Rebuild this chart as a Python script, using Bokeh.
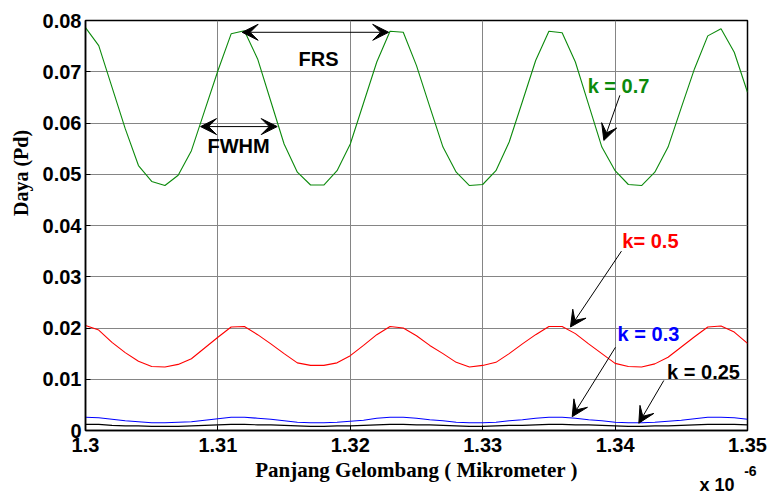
from bokeh.plotting import figure
from bokeh.models import Range1d, FixedTicker, Label, Arrow, VeeHead
from bokeh.embed import file_html
from bokeh.resources import INLINE

# Wavelength samples (micrometer, axis multiplier x 10^-6 m)
wavelength = [1.300, 1.301, 1.302, 1.303, 1.304, 1.305, 1.306, 1.307, 1.308, 1.309,
              1.310, 1.311, 1.312, 1.313, 1.314, 1.315, 1.316, 1.317, 1.318, 1.319,
              1.320, 1.321, 1.322, 1.323, 1.324, 1.325, 1.326, 1.327, 1.328, 1.329,
              1.330, 1.331, 1.332, 1.333, 1.334, 1.335, 1.336, 1.337, 1.338, 1.339,
              1.340, 1.341, 1.342, 1.343, 1.344, 1.345, 1.346, 1.347, 1.348, 1.349,
              1.350]

daya_k07 = [0.0786, 0.0751, 0.0670, 0.0589, 0.0517, 0.0486, 0.0478, 0.0498, 0.0546, 0.0624,
            0.0702, 0.0774, 0.0780, 0.0725, 0.0642, 0.0559, 0.0504, 0.0479, 0.0479, 0.0507,
            0.0559, 0.0639, 0.0719, 0.0779, 0.0777, 0.0712, 0.0632, 0.0553, 0.0504, 0.0478,
            0.0480, 0.0507, 0.0563, 0.0642, 0.0722, 0.0779, 0.0776, 0.0719, 0.0636, 0.0553,
            0.0507, 0.0480, 0.0478, 0.0504, 0.0553, 0.0630, 0.0706, 0.0770, 0.0784, 0.0738,
            0.0660]

daya_k05 = [0.0205, 0.0196, 0.0172, 0.0152, 0.0135, 0.0125, 0.0124, 0.0129, 0.0140, 0.0161,
            0.0182, 0.0202, 0.0203, 0.0187, 0.0169, 0.0150, 0.0132, 0.0127, 0.0127, 0.0132,
            0.0146, 0.0166, 0.0187, 0.0203, 0.0200, 0.0185, 0.0166, 0.0150, 0.0133, 0.0124,
            0.0127, 0.0133, 0.0150, 0.0169, 0.0187, 0.0203, 0.0203, 0.0189, 0.0169, 0.0150,
            0.0131, 0.0125, 0.0124, 0.0130, 0.0143, 0.0163, 0.0183, 0.0202, 0.0204, 0.0192,
            0.0170]

daya_k03 = [0.0026, 0.0025, 0.0022, 0.0019, 0.0017, 0.0015, 0.0015, 0.0016, 0.0017, 0.0020,
            0.0023, 0.0026, 0.0026, 0.0024, 0.0022, 0.0019, 0.0016, 0.0015, 0.0015, 0.0016,
            0.0018, 0.0020, 0.0024, 0.0026, 0.0026, 0.0024, 0.0021, 0.0019, 0.0016, 0.0015,
            0.0015, 0.0016, 0.0019, 0.0021, 0.0024, 0.0026, 0.0026, 0.0024, 0.0021, 0.0019,
            0.0016, 0.0015, 0.0015, 0.0016, 0.0018, 0.0020, 0.0023, 0.0026, 0.0026, 0.0025,
            0.0022]

daya_k025 = [0.0012, 0.0012, 0.0010, 0.0009, 0.0009, 0.0008, 0.0008, 0.0008, 0.0009, 0.0010,
             0.0011, 0.0012, 0.0012, 0.0011, 0.0011, 0.0010, 0.0009, 0.0008, 0.0008, 0.0009,
             0.0009, 0.0010, 0.0011, 0.0012, 0.0012, 0.0011, 0.0011, 0.0010, 0.0009, 0.0008,
             0.0008, 0.0009, 0.0010, 0.0010, 0.0011, 0.0012, 0.0012, 0.0011, 0.0011, 0.0010,
             0.0009, 0.0008, 0.0008, 0.0009, 0.0009, 0.0010, 0.0011, 0.0012, 0.0012, 0.0012,
             0.0011]

x_ticks = [1.30, 1.31, 1.32, 1.33, 1.34, 1.35]
x_tick_labels = ["1.3", "1.31", "1.32", "1.33", "1.34", "1.35"]
y_ticks = [0.0, 0.01, 0.02, 0.03, 0.04, 0.05, 0.06, 0.07, 0.08]
y_tick_labels = ["0", "0.01", "0.02", "0.03", "0.04", "0.05", "0.06", "0.07", "0.08"]

GREEN = "#0c8a0c"
SANS = "Liberation Sans"
SERIF = "Liberation Serif"
NBSP = "\u00a0"

p = figure(width=770, height=492, output_backend="svg", toolbar_location=None,
           x_range=Range1d(1.30, 1.35), y_range=Range1d(0.0, 0.08),
           min_border_left=85, min_border_right=23, min_border_top=20, min_border_bottom=62,
           background_fill_color="white", border_fill_color="white")
p.outline_line_color = "black"
p.outline_line_width = 1.5

xt = FixedTicker(ticks=x_ticks)
yt = FixedTicker(ticks=y_ticks)

for ax, tk, labels in ((p.xaxis[0], xt, x_tick_labels), (p.yaxis[0], yt, y_tick_labels)):
    ax.ticker = tk
    ax.major_label_overrides = {t: l for t, l in zip(tk.ticks, labels)}
    ax.major_tick_in = 5
    ax.major_tick_out = 0
    ax.minor_tick_in = 0
    ax.minor_tick_out = 0
    ax.axis_line_width = 1.5
    ax.major_tick_line_width = 1
    ax.major_label_text_font = SANS
    ax.major_label_text_font_style = "bold"
    ax.major_label_text_font_size = "20px"
    ax.major_label_text_color = "black"
    ax.axis_label_text_font = SERIF
    ax.axis_label_text_font_style = "bold"
    ax.axis_label_text_color = "black"

p.xaxis.axis_label = "Panjang Gelombang ( Mikrometer )"
p.xaxis.axis_label_text_font_size = "21px"
p.xaxis.major_label_standoff = 7
p.xaxis.axis_label_standoff = 3
# leading no-break spaces lift the label above the frame centre, as in the original
p.yaxis.axis_label = NBSP * 21 + "Daya (Pd)"
p.yaxis.axis_label_text_font_size = "20px"
p.yaxis.major_label_standoff = 4
p.yaxis.axis_label_standoff = 8

p.xgrid.ticker = xt
p.ygrid.ticker = yt
for g in (p.xgrid[0], p.ygrid[0]):
    g.grid_line_color = "#858585"
    g.grid_line_width = 1

p.line(wavelength, daya_k07, line_color=GREEN, line_width=1.1)
p.line(wavelength, daya_k05, line_color="#ff0000", line_width=1.1)
p.line(wavelength, daya_k03, line_color="#0000ff", line_width=1.1)
p.line(wavelength, daya_k025, line_color="#000000", line_width=1.1)

def head():
    return VeeHead(size=16, fill_color="black", line_color="black", line_width=1)

# FRS double arrow
p.add_layout(Arrow(start=head(), end=head(), x_start=1.31183, y_start=0.0777,
                   x_end=1.3229, y_end=0.0777, line_color="black", line_width=1))
# FWHM double arrow
p.add_layout(Arrow(start=head(), end=head(), x_start=1.30869, y_start=0.0593,
                   x_end=1.31448, y_end=0.0593, line_color="black", line_width=1))
# pointer arrows
p.add_layout(Arrow(end=head(), x_start=1.34036, y_start=0.0654, x_end=1.33915, y_end=0.0566,
                   line_color="black", line_width=1))
p.add_layout(Arrow(end=head(), x_start=1.34048, y_start=0.0350, x_end=1.33663, y_end=0.0202,
                   line_color="black", line_width=1))
p.add_layout(Arrow(end=head(), x_start=1.34003, y_start=0.01625, x_end=1.33676, y_end=0.0027,
                   line_color="black", line_width=1))
p.add_layout(Arrow(end=head(), x_start=1.34368, y_start=0.00976, x_end=1.34179, y_end=0.00142,
                   line_color="black", line_width=1))

def lab(x, y, text, color, size="20px", align="center", baseline="middle", where="center"):
    lbl = Label(x=x, y=y, text=text, text_color=color, text_font=SANS,
                text_font_style="bold", text_font_size=size,
                text_align=align, text_baseline=baseline)
    p.add_layout(lbl, where)

lab(1.3176, 0.0724, "FRS", "black")
lab(1.31156, 0.0556, "FWHM", "black")
lab(1.34026, 0.0673, "k = 0.7", GREEN)
lab(1.34267, 0.0369, "k= 0.5", "#ff0000")
lab(1.34252, 0.0189, "k = 0.3", "#0000ff")
lab(1.34668, 0.0115, "k = 0.25", "black")
# exponent of the x axis, drawn outside the frame (side panels are not clipped)
lab(1.3477, -0.0106, "x 10", "black", size="18px", where="above")
lab(1.34975, -0.0079, "-6", "black", size="14px", align="left", where="right")

open("out.html", "w").write(file_html(p, INLINE))
